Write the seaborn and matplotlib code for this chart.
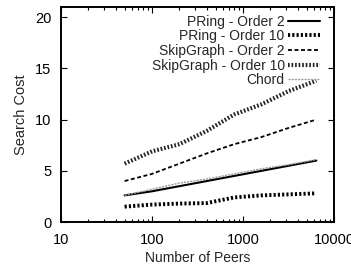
import numpy as np
import pandas as pd
import seaborn as sns
import matplotlib
matplotlib.use("Agg")
import matplotlib.pyplot as plt
from matplotlib.ticker import FixedLocator, FixedFormatter, LogLocator, NullFormatter

# data
peers = [50, 100, 200, 400, 800, 1600, 3200, 6400]
pring_2 = [2.6, 3.0, 3.5, 4.0, 4.5, 5.0, 5.5, 6.0]
pring_10 = [1.5, 1.7, 1.8, 1.85, 2.4, 2.6, 2.7, 2.8]
skip_2 = [4.0, 4.7, 5.7, 6.7, 7.6, 8.3, 9.2, 10.0]
skip_10 = [5.7, 6.9, 7.6, 8.9, 10.5, 11.5, 12.8, 13.8]
chord = [2.6, 3.2, 3.8, 4.2, 4.7, 5.2, 5.6, 6.1]

series_names = ["PRing - Order 2", "PRing - Order 10", "SkipGraph - Order 2",
                "SkipGraph - Order 10", "Chord"]
series_vals = [pring_2, pring_10, skip_2, skip_10, chord]

x_ticks = [10, 100, 1000, 10000]
x_labels = ["10", "100", "1000", "10000"]
y_ticks = [0, 5, 10, 15, 20]

sns.set_style("ticks")
plt.rcParams['font.family'] = ['Liberation Sans Narrow', 'Liberation Sans', 'DejaVu Sans']
plt.rcParams['font.size'] = 10

styles = [
    dict(color="black", lw=1.5, ls="-"),
    dict(color="black", lw=2.8, ls=(0, (0.55, 0.55))),
    dict(color="black", lw=1.3, ls=(0, (2.2, 1.4))),
    dict(color="#222222", lw=3.0, ls=(0, (0.4, 0.45))),
    dict(color="#9a9a9a", lw=1.0, ls=(0, (1.5, 0.8))),
]

fig = plt.figure(figsize=(3.51, 2.75), dpi=100)
ax = fig.add_axes([61/351, 1 - 222/275, 273/351, 215/275])

for name, vals, st in zip(series_names, series_vals, styles):
    df = pd.DataFrame({"peers": peers, "cost": vals})
    sns.lineplot(data=df, x="peers", y="cost", ax=ax, label=name,
                 color=st["color"], linewidth=st["lw"], linestyle=st["ls"])

ax.set_xscale("log")
ax.set_xlim(10, 10000)
ax.set_ylim(0, 21)
ax.xaxis.set_major_locator(FixedLocator(x_ticks))
ax.xaxis.set_major_formatter(FixedFormatter(x_labels))
ax.xaxis.set_minor_locator(LogLocator(base=10, subs=np.arange(2, 10)))
ax.xaxis.set_minor_formatter(NullFormatter())
ax.set_yticks(y_ticks)

ax.tick_params(which="both", direction="in", top=True, right=True, colors="black",
               labelsize=10.5, width=0.8)
ax.tick_params(which="major", length=4)
ax.tick_params(which="minor", length=2)
ax.tick_params(axis="x", pad=8)
ax.tick_params(axis="y", pad=7)
for sp in ax.spines.values():
    sp.set_linewidth(1.4)
    sp.set_color("black")

ax.set_xlabel("Number of Peers", fontsize=10, labelpad=3)
ax.set_ylabel("Search Cost", fontsize=10.5, labelpad=5)

leg = ax.legend(loc="upper right", bbox_to_anchor=(0.949, 0.965), frameon=False,
                markerfirst=False, handlelength=2.3, handletextpad=0.25,
                labelspacing=0.05, borderpad=0, borderaxespad=0, fontsize=10)

fig.savefig("out.png", dpi=100)
